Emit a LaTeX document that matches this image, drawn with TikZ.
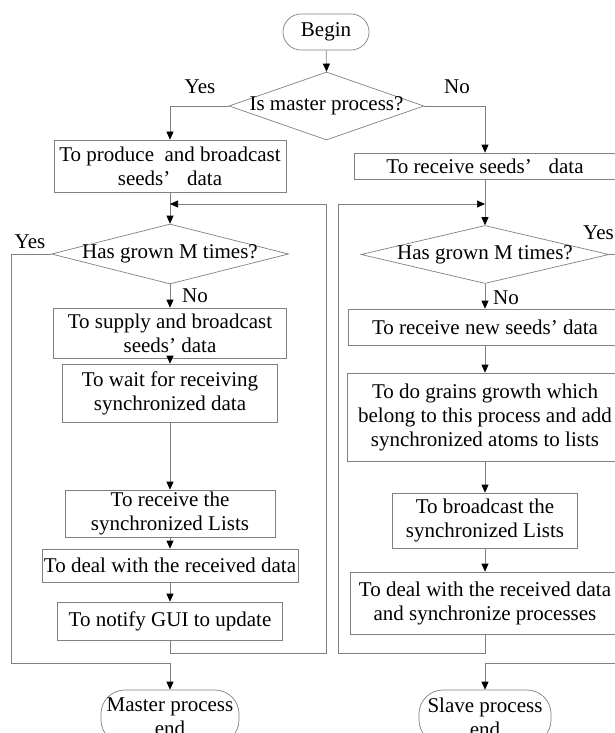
\documentclass[tikz,border=0pt]{standalone}
\usepackage{fontspec}
\setmainfont{Liberation Serif}
\usetikzlibrary{arrows.meta,shapes.geometric}
\begin{document}
\begin{tikzpicture}[x=1pt,y=-1pt,
  line/.style={draw=black!50, line width=0.7pt},
  arr/.style={line, -{Triangle[length=8pt,width=7pt,color=black]}},
  txt/.style={font=\fontsize{21}{24}\selectfont},
  box/.style={line, rectangle, inner sep=0pt, align=center, txt},
  term/.style={box, rounded corners=18pt},
  dia/.style={line, diamond, inner sep=0pt},
  lbl/.style={txt, inner sep=0pt}
]
\useasboundingbox (0,0) rectangle (615,733);

% left column and top
\node[term, minimum width=86pt, minimum height=36pt] (begin) at (326,32) {Begin};
\node[dia, minimum width=195pt, minimum height=68pt,
      label={[lbl]center:Is master process?}] (d1) at (326.5,106) {};
\node[box, minimum width=232pt, minimum height=52pt] (b1) at (170,166)
  {To produce\ \ and broadcast\\seeds’\hspace{0.55em} data};
\node[box, minimum width=262pt, minimum height=26pt] (b2) at (485,166)
  {To receive seeds’\hspace{0.55em} data};

\node[dia, minimum width=237pt, minimum height=60pt,
      label={[lbl]center:Has grown M times?}] (d2l) at (170,254) {};
\node[box, minimum width=233pt, minimum height=50pt] (l3) at (170,333)
  {To supply and broadcast\\seeds’ data};
\node[box, minimum width=215pt, minimum height=58pt] (l4) at (170,393)
  {To wait for receiving\\synchronized data};
\node[box, minimum width=210pt, minimum height=47pt] (l5) at (170,513.5)
  {To receive the\\synchronized Lists};
\node[box, minimum width=256pt, minimum height=33pt] (l6) at (170,565.5)
  {To deal with the received data};
\node[box, minimum width=225pt, minimum height=38pt] (l7) at (170,621)
  {To notify GUI to update};
\node[box, rounded corners=24pt, minimum width=138pt, minimum height=54pt] (mend) at (170,717)
  {Master process\\end};

% right column
\node[dia, minimum width=248pt, minimum height=58pt,
      label={[lbl]center:Has grown M times?}] (d2r) at (485,254.5) {};
\node[box, minimum width=274pt, minimum height=36pt] (r3) at (485,327)
  {To receive new seeds’ data};
\node[box, minimum width=276pt, minimum height=88pt] (r4) at (485,417)
  {To do grains growth which\\belong to this process and add\\synchronized atoms to lists};
\node[box, minimum width=185pt, minimum height=55pt] (r5) at (485,520.5)
  {To broadcast the\\synchronized Lists};
\node[box, minimum width=270pt, minimum height=62pt] (r6) at (485,603)
  {To deal with the received data\\and synchronize processes};
\node[box, rounded corners=24pt, minimum width=132pt, minimum height=54pt] (send) at (485,717)
  {Slave process\\end};

% labels
\node[lbl] (yes1) at (200,87) {Yes};
\node[lbl] (no1) at (457,87) {No};
\node[lbl] (yes2) at (30,242) {Yes};
\node[lbl, anchor=west] (no2) at (182,296) {No};
\node[lbl, anchor=west] (no3) at (493,298) {No};
\node[lbl, anchor=west] (yes3) at (583,233) {Yes};

% coordinates
\coordinate (lloop) at (326,653);
\coordinate (ljoin) at (170,204);
\coordinate (rloop) at (338,653);
\coordinate (rjoin) at (485,204);
\coordinate (yl) at (11,663);
\coordinate (yr) at (630,663);

% connectors
\draw[arr] (begin) -- (d1.north);
\draw[arr] (d1.west) -| (b1.north);
\draw[arr] (d1.east) -| (b2.north);
\draw[arr] (b1) -- (d2l.north);
\draw[arr] (b2) -- (d2r.north);
\draw[arr] (l7.south) |- (lloop) |- (ljoin);
\draw[arr] (r6.south) |- (rloop) |- (rjoin);
\draw[arr] (d2l.south) -- (l3.north);
\draw[arr] (l3) -- (l4);
\draw[arr] (l4) -- (l5);
\draw[arr] (l5) -- (l6);
\draw[arr] (l6) -- (l7);
\draw[arr] (d2l.west) -| (yl) -| (mend.north);
\draw[arr] (d2r.south) -- (r3.north);
\draw[arr] (r3) -- (r4);
\draw[arr] (r4) -- (r5);
\draw[arr] (r5) -- (r6);
\draw[arr] (d2r.east) -| (yr) -| (send.north);
\end{tikzpicture}
\end{document}
